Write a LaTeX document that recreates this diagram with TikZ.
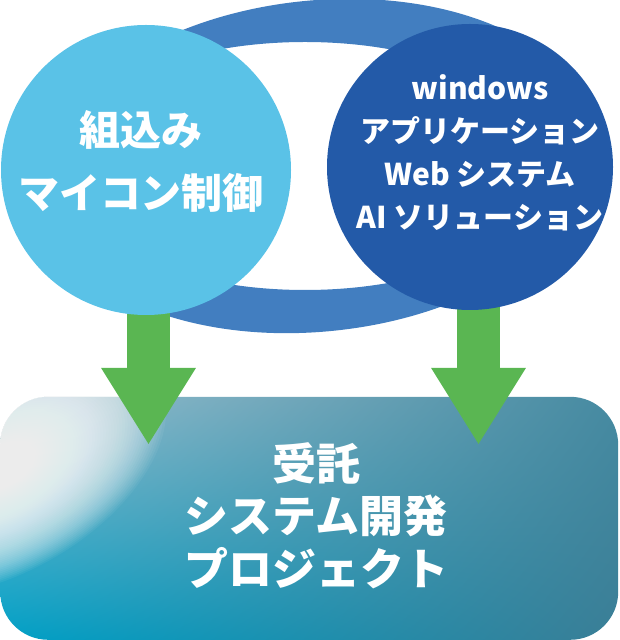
\documentclass[tikz,border=0pt]{standalone}
\usepackage{fontspec}
\setmainfont{Noto Sans CJK JP}
\usepackage{tikz}
\usetikzlibrary{arrows.meta, shadings}

\definecolor{ringblue}{RGB}{66,126,192}
\definecolor{leftblue}{RGB}{90,194,231}
\definecolor{rightblue}{RGB}{35,90,168}
\definecolor{arrowgreen}{RGB}{90,182,82}
\definecolor{boxUL}{RGB}{150,192,208}
\definecolor{boxUR}{RGB}{70,138,161}
\definecolor{boxLL}{RGB}{0,160,198}
\definecolor{boxLR}{RGB}{58,126,150}

\pgfdeclarelayer{back}
\pgfdeclarelayer{flows}
\pgfsetlayers{back,flows,main}

\begin{document}
\begin{tikzpicture}[x=1pt, y=1pt,
  bubble/.style={circle, inner sep=0pt, outer sep=0pt},
  whitetext/.style={text=white, align=center, inner sep=0pt},
  flow/.style={arrowgreen, line width=43pt, -{Triangle[width=89pt, length=77pt]}}]
  \useasboundingbox (0,0) rectangle (620,640);
  % Circles
  \node[bubble, fill=leftblue, minimum size=290pt] (lc) at (146,470) {};
  \node[bubble, fill=rightblue, minimum size=286pt] (rc) at (470,473) {};
  \node[whitetext, font=\bfseries\fontsize{41}{63}\selectfont] (lctext) at (141,478.5) {組込み\\マイコン制御};
  \node[whitetext, font=\bfseries\fontsize{30}{43}\selectfont] (rctext) at (480,487)
    {windows\\アプリケーション\\Web システム\\AI ソリューション};
  \begin{pgfonlayer}{back}
    % Project box
    \node[rounded corners=48pt, minimum width=618pt, minimum height=243pt, inner sep=0pt,
      anchor=south west, upper left=boxUL, upper right=boxUR, lower left=boxLL, lower right=boxLR]
      (box) at (0,0) {};
    \begin{scope}
      \clip[rounded corners=48pt] (box.south west) rectangle (box.north east);
      % soft white glow, built from thin layers
      \foreach \k in {1,...,60}
        \fill[white, opacity=0.05] (2,170) ellipse[x radius=3*\k, y radius=1.7*\k, rotate=30];
    \end{scope}
    % Ring behind the circles
    \fill[ringblue, even odd rule] (318,474) ellipse[x radius=279, y radius=165.5, rotate=6]
      (305,474) ellipse[x radius=250, y radius=124];
  \end{pgfonlayer}
  \node[whitetext, font=\bfseries\fontsize{44}{52.5}\selectfont] (boxtext) at (316,124.5)
    {受託\\システム開発\\プロジェクト};
  % Arrows
  \coordinate (tipL) at (148.5,195);
  \coordinate (tipR) at (478.5,195);
  \begin{pgfonlayer}{flows}
    \draw[flow] ([yshift=4pt]lc.south -| tipL) -- (tipL);
    \draw[flow] ([yshift=4pt]rc.south -| tipR) -- (tipR);
  \end{pgfonlayer}
\end{tikzpicture}
\end{document}
